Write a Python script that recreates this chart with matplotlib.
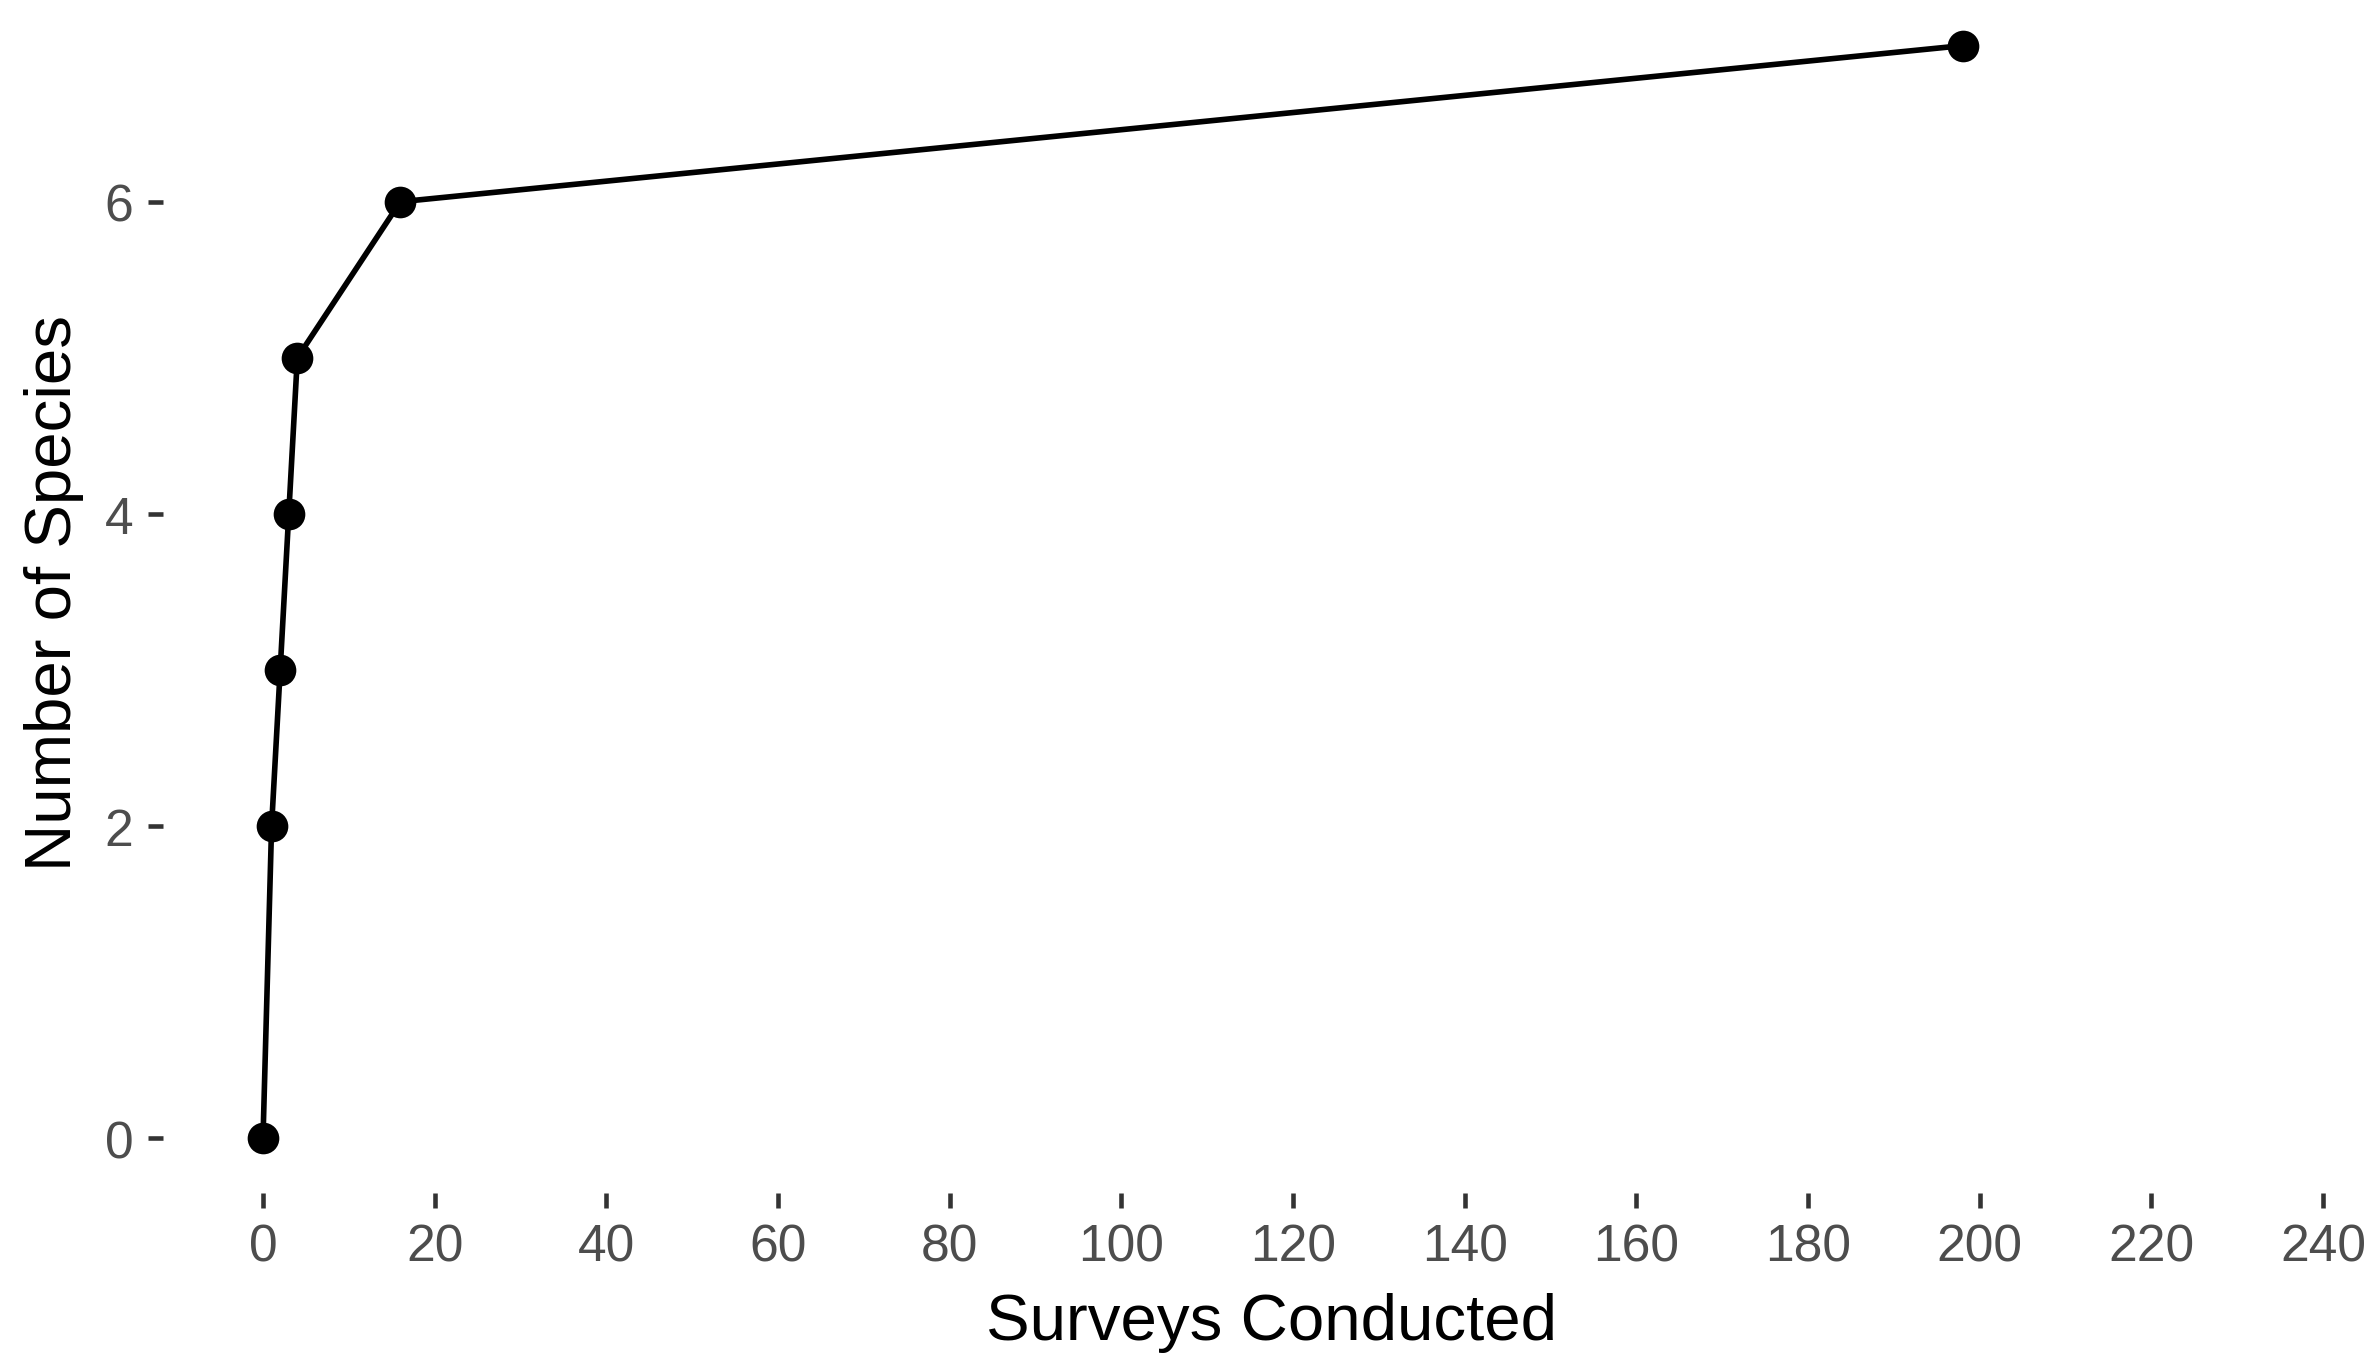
import matplotlib
matplotlib.use("Agg")
import matplotlib.pyplot as plt

# species accumulation data
surveys = [0, 1, 2, 3, 4, 16, 198]
species = [0, 2, 3, 4, 5, 6, 7]

x_ticks = list(range(0, 241, 20))
y_ticks = [0, 2, 4, 6]

plt.rcParams['font.family'] = ['Liberation Sans', 'DejaVu Sans']

W, H, DPI = 2379, 1368, 300
fig = plt.figure(figsize=(W / DPI, H / DPI), dpi=DPI)

# panel in pixel coordinates (top runs a bit past the image edge, like the original)
left, right, top, bottom = 163, 2363, -8, 1194
ax = fig.add_axes([left / W, (H - bottom) / H, (right - left) / W, (bottom - top) / H])

ax.plot(surveys, species, color='black', linewidth=1.35, marker='o',
        markersize=7.6, markerfacecolor='black', markeredgewidth=0, clip_on=False)

ax.set_xlim(-11.65, 244.65)
ax.set_ylim(-0.35, 7.35)
ax.set_xticks(x_ticks)
ax.set_yticks(y_ticks)

for s in ax.spines.values():
    s.set_visible(False)

ax.tick_params(axis='both', length=3.7, width=1.1, color='#333333',
               labelcolor='#4D4D4D', labelsize=12.4, pad=3.4)

ax.set_xlabel('Surveys Conducted', fontsize=15.7, color='black', labelpad=5)
ax.xaxis.label.set_x(0.504)
ax.set_ylabel('Number of Species', fontsize=15.7, color='black', labelpad=5)

fig.savefig('out.png', dpi=DPI, facecolor='white')
